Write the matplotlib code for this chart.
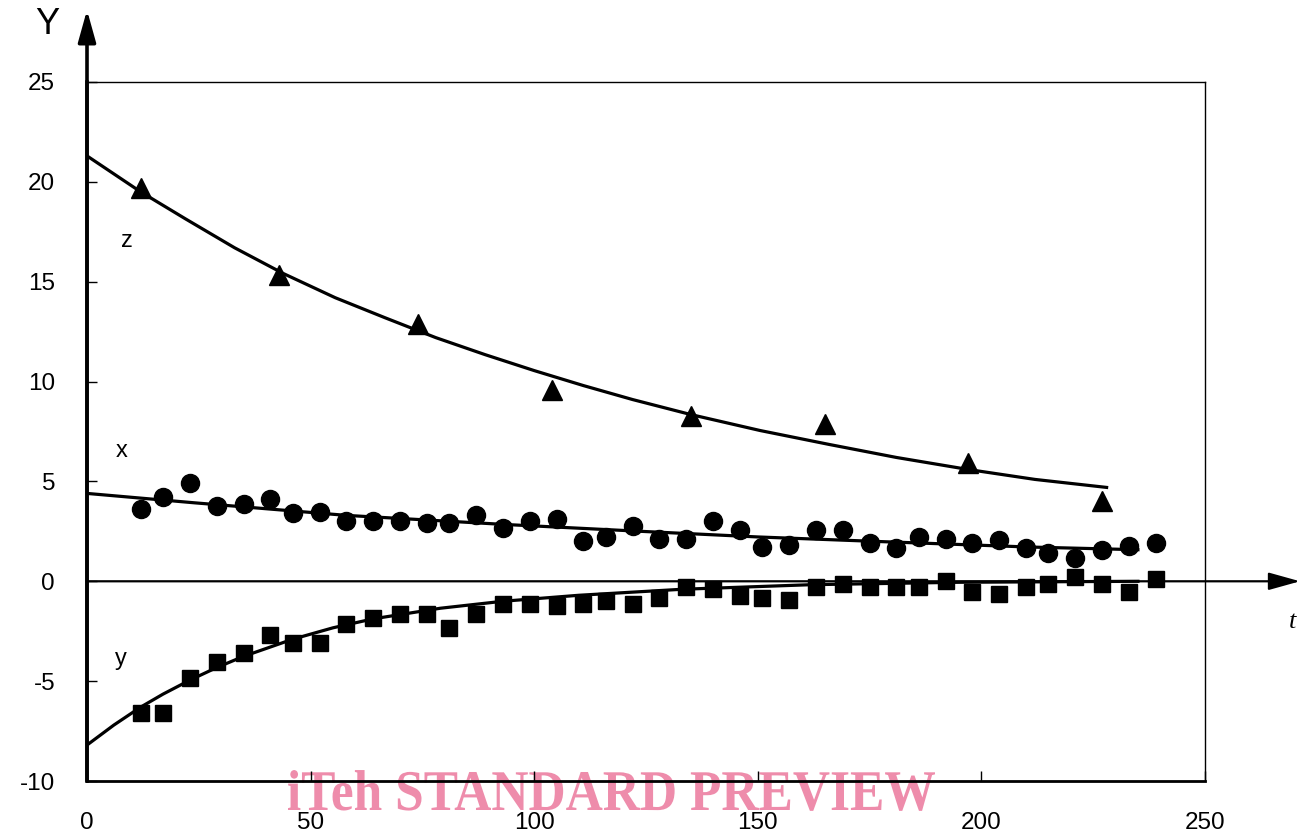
import matplotlib.pyplot as plt
from matplotlib.textpath import TextPath
from matplotlib.patches import PathPatch
from matplotlib.font_manager import FontProperties
from matplotlib.transforms import Affine2D, IdentityTransform

# measured points
t_xy = [12, 17, 23, 29, 35, 41, 46, 52, 58, 64, 70, 76, 81, 87, 93, 99, 105, 111, 116, 122,
        128, 134, 140, 146, 151, 157, 163, 169, 175, 181, 186, 192, 198, 204, 210, 215, 221, 227, 233, 239]
x_vals = [3.6, 4.2, 4.9, 3.75, 3.85, 4.1, 3.4, 3.45, 3.0, 3.0, 3.0, 2.9, 2.9, 3.3, 2.65, 3.0, 3.1, 2.0, 2.2, 2.75,
          2.1, 2.1, 3.0, 2.55, 1.7, 1.8, 2.55, 2.55, 1.9, 1.65, 2.2, 2.1, 1.9, 2.05, 1.65, 1.4, 1.15, 1.55, 1.75, 1.9]
y_vals = [-6.6, -6.6, -4.85, -4.05, -3.6, -2.7, -3.1, -3.1, -2.15, -1.85, -1.65, -1.65, -2.35, -1.65, -1.15, -1.15,
          -1.25, -1.15, -1.0, -1.15, -0.85, -0.3, -0.4, -0.75, -0.85, -0.95, -0.3, -0.15, -0.3, -0.3, -0.3, 0.0,
          -0.55, -0.65, -0.3, -0.15, 0.2, -0.15, -0.55, 0.1]
t_z = [12, 43, 74, 104, 135, 165, 197, 227]
z_vals = [19.7, 15.35, 12.9, 9.6, 8.3, 7.9, 5.9, 4.0]

# fitted curves
t_zfit = [0, 7, 12, 22, 33, 44, 55.5, 66.6, 78, 89, 100, 111, 122, 135, 150.5, 166, 181, 197, 212, 228]
z_fit = [21.3, 20.25, 19.5, 18.15, 16.7, 15.4, 14.2, 13.2, 12.2, 11.35, 10.55, 9.8, 9.1, 8.35, 7.55,
         6.85, 6.2, 5.6, 5.1, 4.7]
t_xfit = [0, 24, 58, 93, 124, 150, 176, 210, 235]
x_fit = [4.4, 3.93, 3.3, 2.85, 2.5, 2.22, 2.0, 1.72, 1.58]
t_yfit = [0, 6, 12, 17, 23, 29, 35, 46, 55, 64, 79, 93, 110, 133, 162, 195, 235]
y_fit = [-8.2, -7.2, -6.3, -5.65, -4.95, -4.32, -3.76, -2.9, -2.33, -1.88, -1.35, -1.0, -0.7, -0.4,
         -0.17, -0.05, 0.0]

xticks = [0, 50, 100, 150, 200, 250]
yticks = [-10, -5, 0, 5, 10, 15, 20, 25]

W, H = 1309, 834
fig = plt.figure(figsize=(W / 100, H / 100), dpi=100)
ax = fig.add_axes([87 / W, 53 / H, 1118 / W, 699 / H])
ax.patch.set_visible(False)

ax.set_xlim(0, 250)
ax.set_ylim(-10, 25)

ax.plot(t_zfit, z_fit, color='k', lw=2.3, zorder=3)
ax.plot(t_xfit, x_fit, color='k', lw=2.3, zorder=3)
ax.plot(t_yfit, y_fit, color='k', lw=2.3, zorder=3)

ax.plot(t_z, z_vals, '^', color='k', ms=14, zorder=4)
ax.plot(t_xy, x_vals, 'o', color='k', ms=13, zorder=4)
ax.plot(t_xy, y_vals, 's', color='k', ms=11.5, zorder=4)

ax.text(8.9, 17.05, 'z', fontsize=17, family='Liberation Sans', ha='center', va='center')
ax.text(7.8, 6.5, 'x', fontsize=17, family='Liberation Sans', ha='center', va='center')
ax.text(7.6, -3.9, 'y', fontsize=17, family='Liberation Sans', ha='center', va='center')

# axes styling
for side in ['top', 'right']:
    ax.spines[side].set_linewidth(1.0)
ax.spines['left'].set_linewidth(2.6)
ax.spines['bottom'].set_linewidth(2.0)

ax.set_xticks(xticks)
ax.set_yticks(yticks)
ax.set_xticklabels([str(v) for v in xticks])
ax.set_yticklabels([str(v) for v in yticks])
ax.tick_params(axis='both', direction='in', length=7, width=1.0, labelsize=17.5)
ax.tick_params(axis='y', pad=23)
ax.tick_params(axis='x', pad=22)
for lab in ax.get_xticklabels() + ax.get_yticklabels():
    lab.set_family('Liberation Sans')

# arrows
ax.annotate('', xy=(0, 1.103), xytext=(0, 0), xycoords='axes fraction',
            arrowprops=dict(arrowstyle='-|>,head_length=0.97,head_width=0.27', mutation_scale=20,
                            lw=2.6, color='k', shrinkA=0, shrinkB=0),
            annotation_clip=False)
ax.annotate('', xy=(1.085, 0), xytext=(0, 0), xycoords=('axes fraction', 'data'),
            arrowprops=dict(arrowstyle='-|>,head_length=0.97,head_width=0.27', mutation_scale=20,
                            lw=1.6, color='k', shrinkA=0, shrinkB=0),
            annotation_clip=False)

fig.text(47 / W, 1 - 25 / H, 'Y', fontsize=26, family='Liberation Sans', ha='center', va='center')
fig.text(1293 / W, 1 - 622 / H, 't', fontsize=19, family='Liberation Serif', style='italic',
         ha='center', va='center')

# watermark
wm = TextPath((0, 0), 'iTeh STANDARD PREVIEW', size=1,
              prop=FontProperties(family='Liberation Serif', weight='bold'))
bb = wm.get_extents()
sx = 647 / bb.width
sy = 38 / 0.66
tr = Affine2D().translate(-bb.x0, 0).scale(sx, sy).translate(288, H - 810)
patch = PathPatch(tr.transform_path(wm), facecolor='#ee8cab', edgecolor='none',
                  transform=IdentityTransform(), zorder=-1)
fig.add_artist(patch)

fig.savefig('out.png', dpi=100)
